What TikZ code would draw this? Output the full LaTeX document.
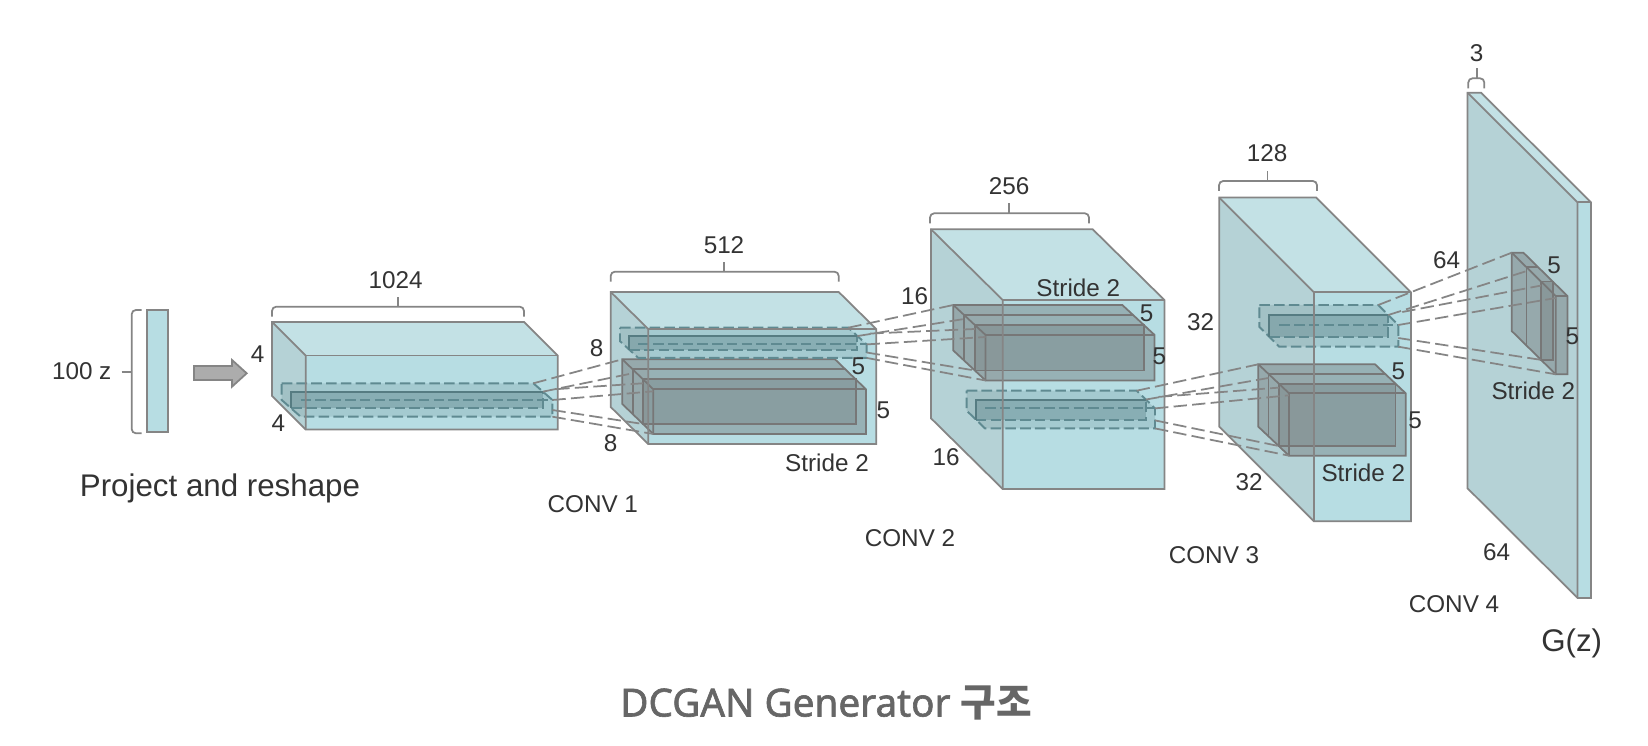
\documentclass[tikz,border=0pt]{standalone}
\usepackage{fontspec}
\setmainfont{Liberation Sans}
\newfontfamily\titlefont{Noto Sans}[FakeBold=1.6]
\newfontfamily\cjk{Noto Sans CJK KR}
\definecolor{frontblue}{HTML}{B7DDE3}
\definecolor{topblue}{HTML}{C3E1E5}
\definecolor{leftblue}{HTML}{B5D2D6}
\definecolor{edgegray}{HTML}{858585}
\definecolor{textgray}{HTML}{333333}
\definecolor{titlegray}{HTML}{666666}
\definecolor{slabteal}{HTML}{486F76}
\definecolor{slabline}{HTML}{5F8A91}
\definecolor{kernelgray}{HTML}{555555}
\tikzset{
	edge/.style={draw=edgegray,line width=0.5pt},
	kernelline/.style={draw=kernelgray!80,line width=0.5pt},
	slabdash/.style={draw=slabline,line width=0.55pt,dash pattern=on 3pt off 1.2pt},
	slabsolid/.style={draw=slabline!90!black,line width=0.55pt},
	link/.style={draw=edgegray,line width=0.5pt,dash pattern=on 3.8pt off 1.5pt},
	brace/.style={draw=edgegray,line width=0.5pt,rounded corners=1.2pt},
	lab/.style={text=textgray,font=\fontsize{6.9}{8}\selectfont,inner sep=0pt},
	biglab/.style={text=textgray,font=\fontsize{8.9}{10}\selectfont,inner sep=0pt}
}
% #1 x, #2 y, #3 w, #4 h, #5 dx, #6 dy, #7 what lies inside
\newcommand{\cuboid}[7]{
	\fill[frontblue] (#1+#5,#2+#6) rectangle ++(#3,#4);
	\fill[topblue] (#1,#2) -- ++(#3,0) -- ++(#5,#6) -- ++(-#3,0) -- cycle;
	\fill[leftblue] (#1,#2) -- ++(#5,#6) -- ++(0,#4) -- ++(-#5,-#6) -- cycle;
	#7
	\draw[edge] (#1,#2) -- ++(#3,0) -- ++(#5,#6) -- ++(0,#4) -- ++(-#3,0) -- ++(-#5,-#6) -- ++(0,-#4) -- cycle;
	\draw[edge] (#1,#2) -- ++(#5,#6) -- ++(0,#4);
	\draw[edge] (#1+#5,#2+#6) -- ++(#3,0);
}
% #1 name, #2 x, #3 y, #4 w, #5 h, #6 dx, #7 dy
\newcommand{\kernel}[7]{
	\fill[kernelgray,fill opacity=0.32] (#2,#3) -- ++(#4,0) -- ++(#6,#7) -- ++(0,#5) -- ++(-#4,0) -- ++(-#6,-#7) -- cycle;
	\fill[kernelgray,fill opacity=0.2] (#2+#6*2/3,#3+#7*2/3) rectangle ++(#4,#5);
	\draw[kernelline] (#2,#3) -- ++(#4,0) -- ++(#6,#7) -- ++(0,#5) -- ++(-#4,0) -- ++(-#6,-#7) -- cycle;
	\draw[kernelline] (#2,#3) -- ++(#6,#7) -- ++(0,#5);
	\draw[kernelline] (#2+#6,#3+#7) -- ++(#4,0);
	\draw[kernelline] (#2+#6/3,#3+#7/3+#5) -- ++(0,-#5) -- ++(#4,0);
	\draw[kernelline] (#2+#6*2/3,#3+#7*2/3) rectangle ++(#4,#5);
	\coordinate (#1a) at (#2,#3);
	\coordinate (#1b) at (#2+#6/3,#3+#7/3+4);
	\coordinate (#1c) at (#2+#6*2/3,#3+#7*2/3+4);
	\coordinate (#1d) at (#2+#6,#3+#7+2);
	\coordinate (#1e) at (#2+#6*2/3,#3+#7*2/3+#5);
	\coordinate (#1f) at (#2+#6,#3+#7+#5);
}
\newcommand{\slab}[7]{
	\fill[slabteal,fill opacity=0.17] (#2,#3) -- ++(#4,0) -- ++(#6,#7) -- ++(0,#5) -- ++(-#4,0) -- ++(-#6,-#7) -- cycle;
	\fill[slabteal,fill opacity=0.3] (#2+#6/2,#3+#7/2) rectangle ++(#4,#5);
	\draw[slabdash] (#2,#3) -- ++(#4,0) -- ++(#6,#7) -- ++(0,#5) -- ++(-#4,0) -- ++(-#6,-#7) -- cycle;
	\draw[slabdash] (#2+#6,#3+#7) -- ++(#4,0);
	\draw[slabdash] (#2+#6/2,#3+#7/2+#5) -- ++(#4,0) -- ++(0,-#5);
	\draw[slabsolid] (#2+#6/2,#3+#7/2+#5) -- ++(0,-#5) -- ++(#4,0);
	\coordinate (#1a) at (#2+#4,#3);
	\coordinate (#1b) at (#2+#4+#6/2,#3+#7/2);
	\coordinate (#1c) at (#2+#4+#6*1.2,#3+#7*0.35);
	\coordinate (#1d) at (#2+#4+#6,#3+#7);
	\coordinate (#1e) at (#2+#4+#6,#3+#7+#5*0.6);
	\coordinate (#1f) at (#2+#4+#6,#3+#7+#5);
}
\newcommand{\links}[2]{
	\draw[link] (#1a) -- (#2a);
	\draw[link] (#1b) -- (#2b);
	\draw[link] (#1c) -- (#2c);
	\draw[link] (#1d) -- (#2d);
	\draw[link] (#1e) -- (#2e);
	\draw[link] (#1f) -- (#2f);
}
% #1 left, #2 right, #3 tick x, #4 y of the bar
\newcommand{\dimbrace}[4]{
	\draw[brace] (#1,#4+10) -- (#1,#4) -- (#2,#4) -- (#2,#4+10);
	\draw[brace] (#3,#4) -- (#3,#4-10);
}

\begin{document}
\begin{tikzpicture}[x=0.01cm,y=-0.01cm]
\useasboundingbox (0,0) rectangle (1648,746);
\fill[white] (0,0) rectangle (1648,746);

% 100 z
\draw[edge,fill=frontblue] (147.3,310) rectangle (168.3,432.3);
\draw[brace] (141.7,310) -- (131.7,310) -- (131.7,433.3) -- (141.7,433.3);
\draw[brace] (121.7,371.7) -- (131.7,371.7);
\draw[edge,fill=gray!65] (194,366) -- (232,366) -- (232,360) -- (246.7,373.3) -- (232,386.7) -- (232,380) -- (194,380) -- cycle;
\node[lab] (hundred) at (81.7,371) {100 z};
\node[biglab] (project) at (220,488) {Project and reshape};

% the five volumes
\cuboid{272}{322}{252}{74}{33.7}{33.5}{\slab{sa}{281.7}{383.3}{251.7}{16.7}{19}{16.7}}
\cuboid{610.7}{292}{228}{115}{37.5}{37}{
	\kernel{kb}{622.3}{359.3}{212.7}{44.7}{31}{30}
	\slab{sb}{620}{327.7}{228.3}{13.5}{18.3}{16.7}
}
\cuboid{931}{229.3}{161.7}{189}{71.7}{70.7}{
	\kernel{kc}{953.3}{305}{169}{45.5}{32.3}{30}
	\slab{sc}{966.7}{390.7}{170}{20}{18.3}{17.7}
}
\cuboid{1219.3}{197.6}{97}{229}{94.7}{94.7}{
	\kernel{kd}{1258.3}{364.3}{116.7}{62.4}{30.7}{29}
	\slab{sd}{1259.3}{305}{119}{21.7}{20}{20}
}
\cuboid{1467.5}{92.7}{13.5}{395.6}{110}{109.6}{\kernel{ke}{1511.7}{252.7}{11.7}{78.3}{44}{43.3}}

\links{sa}{kb}
\links{sb}{kc}
\links{sc}{kd}
\links{sd}{ke}

% sizes
\dimbrace{272}{524}{398.3}{306.7}
\dimbrace{610.7}{838.7}{724.3}{271.7}
\dimbrace{930}{1089}{1009.3}{213.3}
\dimbrace{1219}{1317}{1267.5}{181}
\dimbrace{1468.3}{1484.3}{1476.7}{78.3}
\node[lab] (num1024) at (395.7,280) {1024};
\node[lab] (num512) at (724,245) {512};
\node[lab] (num256) at (1009,186) {256};
\node[lab] (num128) at (1267,153.5) {128};
\node[lab] (num3) at (1476.7,52.7) {3};
\node[lab] (fourup) at (257.7,354.3) {4};
\node[lab] (fourdown) at (278.3,423.3) {4};
\node[lab] (eightup) at (596.7,348.3) {8};
\node[lab] (eightdown) at (610.7,443.3) {8};
\node[lab] (sixteenup) at (914.5,296.5) {16};
\node[lab] (sixteendown) at (946,456.7) {16};
\node[lab] (thirtytwoup) at (1200.7,321.7) {32};
\node[lab] (thirtytwodown) at (1249,481.7) {32};
\node[lab] (sixtyfourup) at (1446.7,260) {64};
\node[lab] (sixtyfourdown) at (1496.7,551.7) {64};
\node[lab] (fivea) at (858.3,366.7) {5};
\node[lab] (fiveb) at (883.3,410) {5};
\node[lab] (fivec) at (1146.7,313.3) {5};
\node[lab] (fived) at (1159.3,356.7) {5};
\node[lab] (fivee) at (1398.3,371.7) {5};
\node[lab] (fivef) at (1415,420) {5};
\node[lab] (fiveg) at (1554,265.7) {5};
\node[lab] (fiveh) at (1572.3,336) {5};
\node[lab] (stridea) at (827,462.4) {Stride 2};
\node[lab] (strideb) at (1078.3,288.3) {Stride 2};
\node[lab] (stridec) at (1363.3,473.3) {Stride 2};
\node[lab] (strided) at (1533.3,391) {Stride 2};
\node[lab] (conva) at (592.8,504.5) {CONV 1};
\node[lab] (convb) at (910,538) {CONV 2};
\node[lab] (convc) at (1214,555) {CONV 3};
\node[lab] (convd) at (1454,604.3) {CONV 4};
\node[biglab] (gz) at (1571.7,643.3) {G(z)};
\node[inner sep=0pt,text=titlegray,font=\fontsize{11}{14}\selectfont] (title) at (826,703) {\titlefont DCGAN Generator {\cjk\bfseries 구조}};
\end{tikzpicture}
\end{document}
